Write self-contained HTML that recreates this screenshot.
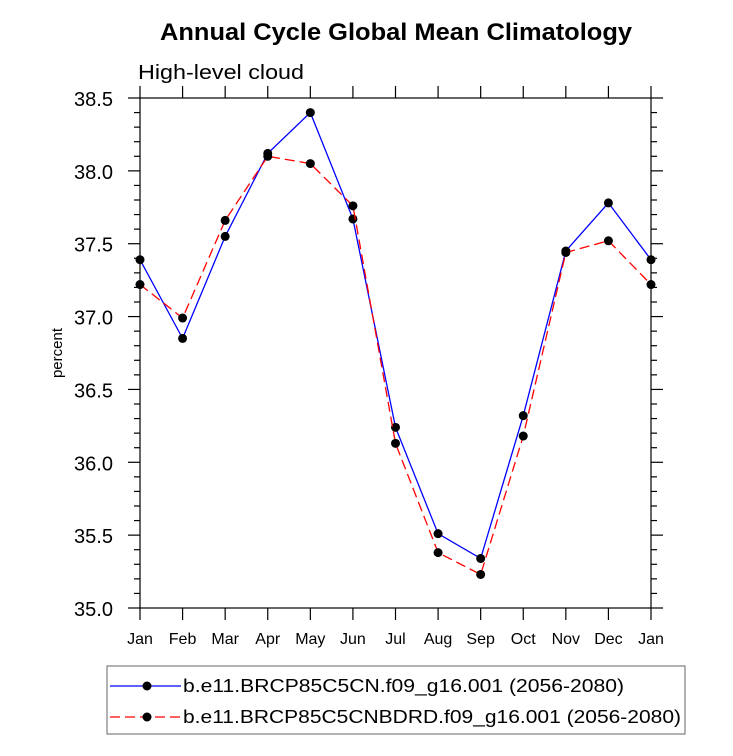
<!DOCTYPE html>
<html><head><meta charset="utf-8"><style>body{margin:0;background:#fff}svg{display:block;font-family:"Liberation Sans",sans-serif}</style></head>
<body>
<svg id="c" width="733" height="756"></svg>
<script>
const months=["Jan","Feb","Mar","Apr","May","Jun","Jul","Aug","Sep","Oct","Nov","Dec","Jan"];
const blueVals=[37.39,36.85,37.55,38.12,38.40,37.67,36.24,35.51,35.34,36.32,37.45,37.78,37.39];
const redVals=[37.22,36.99,37.66,38.10,38.05,37.76,36.13,35.38,35.23,36.18,37.44,37.52,37.22];
const yTicks=["35.0","35.5","36.0","36.5","37.0","37.5","38.0","38.5"];
const NS="http://www.w3.org/2000/svg";
const svg=document.getElementById('c');
const L=140,R=651,T=98,B=608,ymin=35,ymax=38.5;
const xs=i=>L+i*(R-L)/(months.length-1);
const ys=v=>B-(v-ymin)/(ymax-ymin)*(B-T);
function mk(t,a,p){const e=document.createElementNS(NS,t);for(const k in a)e.setAttribute(k,a[k]);(p||svg).appendChild(e);return e;}
let e;
e=mk('text',{x:160,y:40,'font-size':24,'font-weight':'bold',textLength:472,lengthAdjust:'spacingAndGlyphs'});e.textContent='Annual Cycle Global Mean Climatology';


e=mk('text',{x:138,y:79,'font-size':20,textLength:166,lengthAdjust:'spacingAndGlyphs'});e.textContent='High-level cloud';


e=mk('text',{x:62,y:353,'font-size':15,'text-anchor':'middle',transform:'rotate(-90 62 353)'});e.textContent='percent';


const ax=mk('g',{stroke:'#000','stroke-width':1.2,fill:'none'});


mk('rect',{x:L,y:T,width:R-L,height:B-T},ax);
for(let v=ymin;v<=ymax+1e-6;v+=0.1){const y=ys(v);const maj=Math.abs(v*2-Math.round(v*2))<1e-6;const len=maj?12:6;
mk('line',{x1:L,y1:y,x2:L-len,y2:y},ax);mk('line',{x1:R,y1:y,x2:R+len,y2:y},ax);}
yTicks.forEach(t=>{const v=parseFloat(t);const tx=mk('text',{x:74,y:ys(v)+8,'font-size':20,textLength:39,lengthAdjust:'spacingAndGlyphs'});tx.textContent=t;

});
months.forEach((m,i)=>{const x=xs(i);mk('line',{x1:x,y1:B,x2:x,y2:B+12},ax);mk('line',{x1:x,y1:T,x2:x,y2:T-12},ax);
const tx=mk('text',{x:x,y:644,'text-anchor':'middle','font-size':16});tx.textContent=m;

});
function series(vals,color,dash,name){const g=mk('g',{});


mk('polyline',{points:vals.map((v,i)=>xs(i)+','+ys(v)).join(' '),fill:'none',stroke:color,'stroke-width':1.3,'stroke-dasharray':dash},g);
vals.forEach((v,i)=>{const c=mk('circle',{cx:xs(i),cy:ys(v),r:4.5,fill:'#000'},g);

});}
series(blueVals,'#00f','none','series-bcrp85c5cn');
series(redVals,'#f00','10 5','series-bcrp85c5cnbdrd');
const lg=mk('g',{});


mk('rect',{x:107,y:666,width:578,height:68,fill:'none',stroke:'#666'},lg);
[['#00f','none','b.e11.BRCP85C5CN.f09_g16.001 (2056-2080)',686,441],['#f00','10 5','b.e11.BRCP85C5CNBDRD.f09_g16.001 (2056-2080)',717,498]].forEach(d=>{
mk('line',{x1:110,y1:d[3],x2:181,y2:d[3],stroke:d[0],'stroke-width':1.3,'stroke-dasharray':d[1]},lg);
mk('circle',{cx:147,cy:d[3],r:4.5,fill:'#000'},lg);
const t=mk('text',{x:183,y:d[3]+6,'font-size':18,textLength:d[4],lengthAdjust:'spacingAndGlyphs'},lg);t.textContent=d[2];

});
</script>
</body></html>
